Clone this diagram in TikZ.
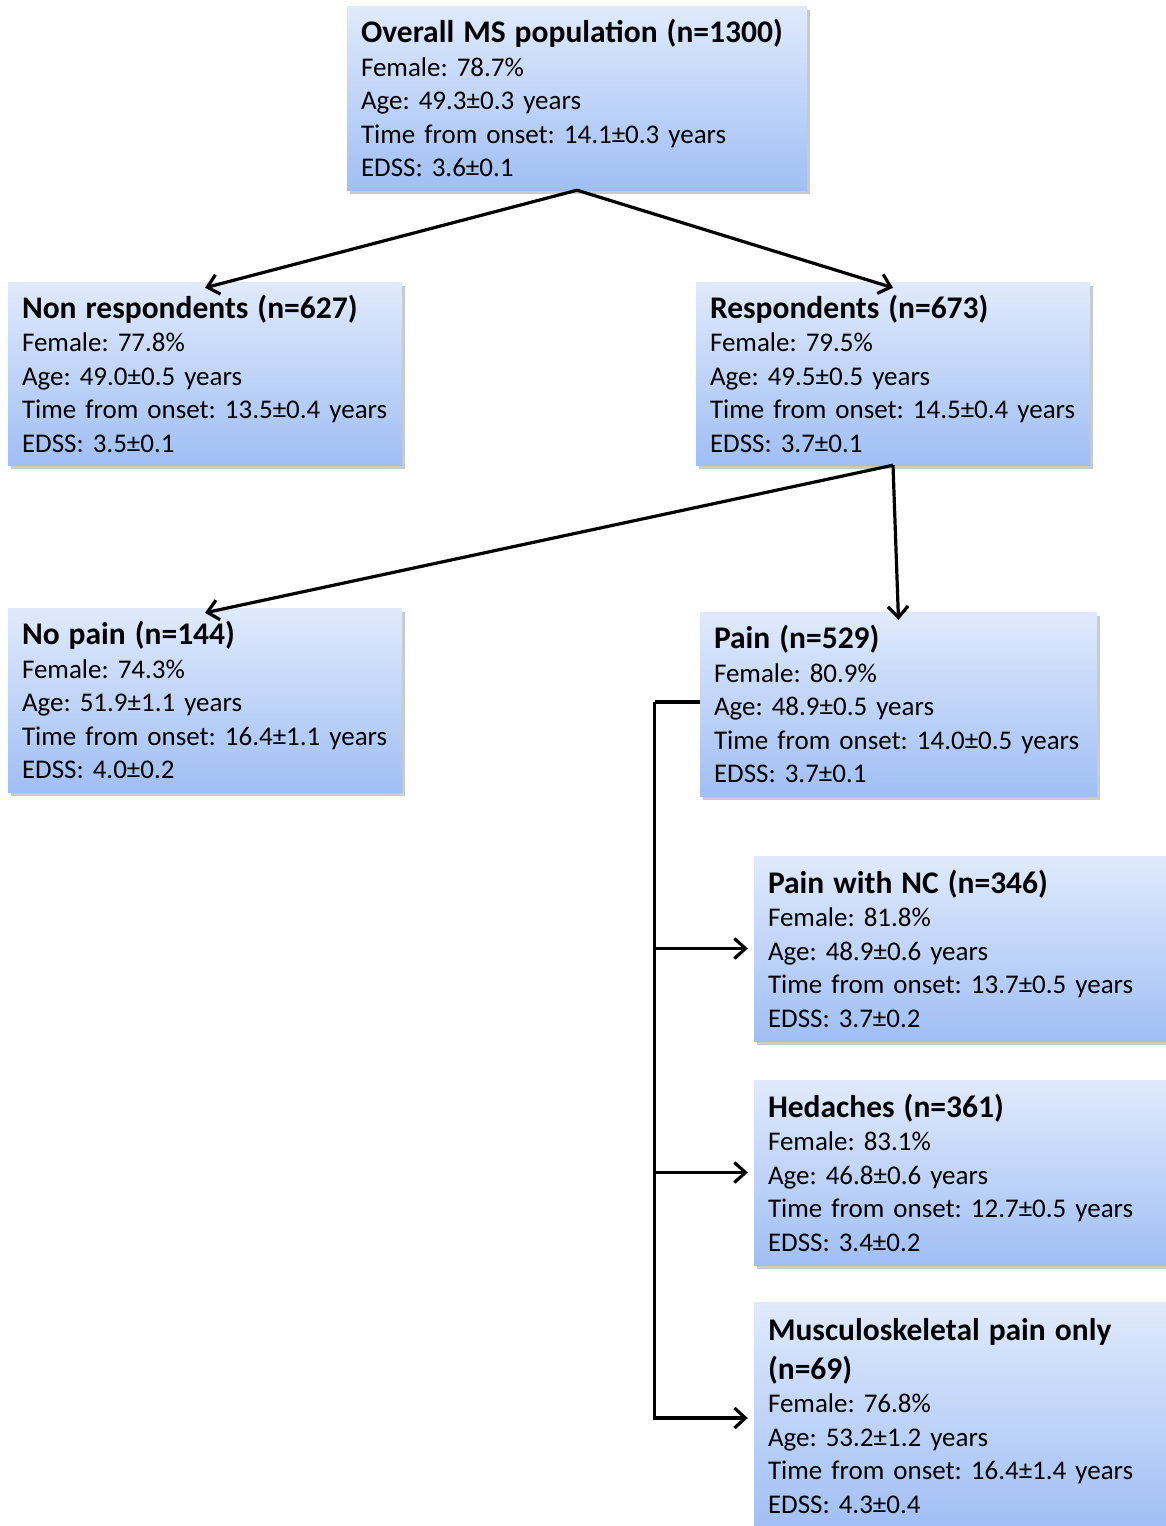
\documentclass[tikz,border=0pt]{standalone}
\usepackage{fontspec}
\setmainfont{Carlito}
\usetikzlibrary{arrows.meta,shadows}
\definecolor{boxtop}{RGB}{224,234,252}
\definecolor{boxbot}{RGB}{160,191,245}
\tikzset{
  infobox/.style={rectangle, top color=boxtop, bottom color=boxbot, draw=none,
    inner xsep=14pt, inner ysep=0pt, align=left, anchor=center,
    font=\fontsize{27}{33.5}\selectfont\frenchspacing,
    drop shadow={opacity=0.35, shadow xshift=3pt, shadow yshift=-4pt, fill=black!60}},
  conn/.style={line width=3.2pt, -{Straight Barb[length=11pt,width=20pt,line width=3.2pt]}},
  plain/.style={line width=3.2pt}
}
\newcommand{\ttl}[1]{{\fontsize{31.5}{37}\selectfont\bfseries #1}}
\newcommand{\mkbox}[6]{% name, x1, y1, x2, y2, text
  \node[infobox, minimum width={(#4-#2)*1pt}, minimum height={(#5-#3)*1pt},
        text width={(#4-#2-28)*1pt}] (#1) at ({(#2+#4)/2*1pt},{-(#3+#5)/2*1pt}) {#6};}
\begin{document}
\begin{tikzpicture}[x=1pt,y=-1pt]
\useasboundingbox (0,0) rectangle (1166,1526);
\mkbox{top}{347}{6}{807}{190}{\ttl{Overall MS population (n=1300)}\\Female: 78.7\%\\Age: 49.3±0.3 years\\Time from onset: 14.1±0.3 years\\EDSS: 3.6±0.1}
\mkbox{nonresp}{8}{282}{402}{465}{\ttl{Non respondents (n=627)}\\Female: 77.8\%\\Age: 49.0±0.5 years\\Time from onset: 13.5±0.4 years\\EDSS: 3.5±0.1}
\mkbox{resp}{696}{282}{1090}{465}{\ttl{Respondents (n=673)}\\Female: 79.5\%\\Age: 49.5±0.5 years\\Time from onset: 14.5±0.4 years\\EDSS: 3.7±0.1}
\mkbox{nopain}{8}{608}{402}{792}{\ttl{No pain (n=144)}\\Female: 74.3\%\\Age: 51.9±1.1 years\\Time from onset: 16.4±1.1 years\\EDSS: 4.0±0.2}
\mkbox{pain}{700}{612}{1097}{796}{\ttl{Pain (n=529)}\\Female: 80.9\%\\Age: 48.9±0.5 years\\Time from onset: 14.0±0.5 years\\EDSS: 3.7±0.1}
\mkbox{nc}{754}{856}{1166}{1041}{\ttl{Pain with NC (n=346)}\\Female: 81.8\%\\Age: 48.9±0.6 years\\Time from onset: 13.7±0.5 years\\EDSS: 3.7±0.2}
\mkbox{hed}{754}{1080}{1166}{1265}{\ttl{Hedaches (n=361)}\\Female: 83.1\%\\Age: 46.8±0.6 years\\Time from onset: 12.7±0.5 years\\EDSS: 3.4±0.2}
\mkbox{musc}{754}{1302}{1166}{1530}{\ttl{Musculoskeletal pain only}\\[5pt]\ttl{(n=69)}\\Female: 76.8\%\\Age: 53.2±1.2 years\\Time from onset: 16.4±1.4 years\\EDSS: 4.3±0.4}
% connectors
\draw[conn] (top.south) -- ([yshift=-6pt]nonresp.north);
\draw[conn] (top.south) -- ([yshift=-6pt]resp.north);
\draw[conn] (resp.south) -- ([yshift=-5pt]nopain.north);
\draw[conn] (resp.south) -- ([yshift=-8pt]pain.north);
\draw[plain] ([yshift=2pt]pain.west) -- ++(-45,0) coordinate (elb);
\draw[conn] (elb) |- ([xshift=-6pt,yshift=-2pt]musc.west);
\draw[conn] (elb |- nc.west) -- ([xshift=-6pt]nc.west);
\draw[conn] (elb |- hed.west) -- ([xshift=-6pt]hed.west);
\end{tikzpicture}
\end{document}
